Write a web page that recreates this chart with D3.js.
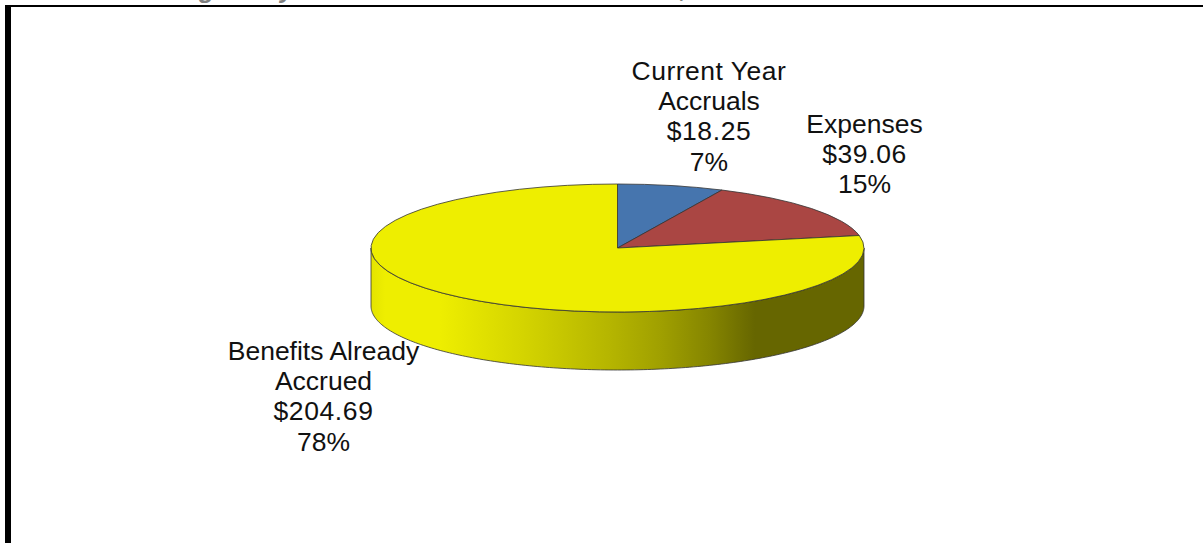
<!DOCTYPE html>
<html>
<head>
<meta charset="utf-8">
<script src="https://cdn.jsdelivr.net/npm/d3@7/dist/d3.min.js"></script>
<style>
html,body{margin:0;padding:0;background:#fff;overflow:hidden}
svg{display:block}
text{font-family:"Liberation Sans",Arial,sans-serif;fill:#111}
</style>
</head>
<body>
<script>
const categories = ["Current Year Accruals", "Expenses", "Benefits Already Accrued"];
const labelLines = [["Current Year", "Accruals"], ["Expenses"], ["Benefits Already", "Accrued"]];
const values = [18.25, 39.06, 204.69];
const percents = ["7%", "15%", "78%"];
const colors = ["#4675AE", "#AA4643", "#EEEE00"];
const wallStops = [[371, "#E4E400"], [385, "#EEEE00"], [440, "#EEEE00"], [520, "#D5D500"], [610, "#B5B500"], [660, "#A0A000"], [710, "#858500"], [755, "#666600"]];

const W = 1203, H = 543;
const cx = 617.5, cy = 248, rx = 246.5, ry = 64, depth = 58;
const money = d3.format("$.2f");

const svg = d3.select("body").append("svg").attr("width", W).attr("height", H);

// cropped title remnants at the top of the picture
const crop = svg.append("g").attr("font-size", 26)
  .attr("font-weight", "bold").attr("font-style", "italic");
[["g", 199, -2], ["y", 280, -2], [",", 680, -3]].forEach(([t, x, y]) =>
  crop.append("text").attr("x", x).attr("y", y).style("fill", "#7f7f7f").text(t));

// frame
svg.append("rect").attr("x", 5).attr("y", 5).attr("width", W).attr("height", 2).attr("fill", "#000");
svg.append("rect").attr("x", 5).attr("y", 5).attr("width", 6).attr("height", H).attr("fill", "#000");

// wall gradient
const x0 = wallStops[0][0], x1 = wallStops[wallStops.length - 1][0];
const offset = d3.scaleLinear().domain([x0, x1]).range([0, 1]);
const grad = svg.append("defs").append("linearGradient").attr("id", "wall")
  .attr("gradientUnits", "userSpaceOnUse")
  .attr("x1", x0).attr("x2", x1).attr("y1", 0).attr("y2", 0);
grad.selectAll("stop").data(wallStops).join("stop")
  .attr("offset", d => offset(d[0])).attr("stop-color", d => d[1]);

// wall: the front half of the cylinder
const pts = d3.range(-90, 90.5, 1).map(a => a * Math.PI / 180);
const line = d3.line();
const bottom = pts.map(a => [cx + rx * Math.sin(a), cy + depth + ry * Math.cos(a)]);
const top_ = pts.map(a => [cx + rx * Math.sin(a), cy + ry * Math.cos(a)]).reverse();
svg.append("path")
  .attr("d", line([[cx - rx, cy], ...bottom, ...top_]) + "Z")
  .attr("fill", "url(#wall)")
  .attr("stroke", "#333").attr("stroke-width", 0.8);

// top face
const pie = d3.pie().sort(null)(values);
const arc = d3.arc().innerRadius(0).outerRadius(rx);
svg.append("g").attr("transform", `translate(${cx},${cy}) scale(1,${ry / rx})`)
  .selectAll("path").data(pie).join("path")
  .attr("d", arc)
  .attr("fill", (d, i) => colors[i])
  .attr("stroke", "#333").attr("stroke-width", 0.8)
  .attr("vector-effect", "non-scaling-stroke");

// labels
const labelPos = [[709, 80], [864.5, 132.5], [323.5, 360]];
const lineH = 30.2;
const labels = svg.append("g").attr("font-size", 26.5).attr("text-anchor", "middle");
categories.forEach((c, i) => {
  const nameCount = labelLines[i].length;
  const lines = [...labelLines[i], money(values[i]), percents[i]];
  lines.forEach((t, j) => {
    labels.append("text")
      .attr("x", labelPos[i][0])
      .attr("y", labelPos[i][1] + j * lineH)
      .attr("letter-spacing", j === nameCount ? 0.6 : (i === 0 && j === 0 ? 0.5 : 0))
      .text(t);
  });
});
</script>
</body>
</html>
